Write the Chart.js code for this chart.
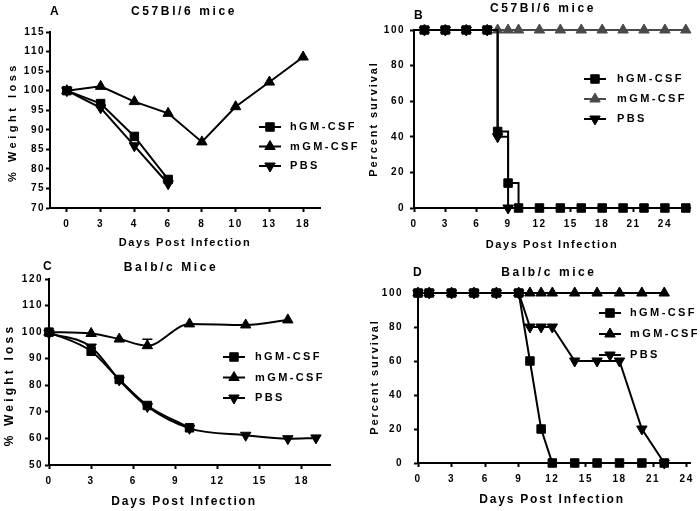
<!DOCTYPE html>
<html>
<head>
<meta charset="utf-8">
<title>GM-CSF weight and survival</title>
<script src="https://cdn.jsdelivr.net/npm/chart.js@4.4.1/dist/chart.umd.min.js"></script>
<style>
  body { margin: 0; background: #fff; }
  #wrap { position: relative; width: 700px; height: 511px; }
  #wrap canvas { position: absolute; left: 0; top: 0; }
</style>
</head>
<body>
<div id="wrap">
  <canvas id="chartA" width="700" height="511"></canvas>
  <canvas id="chartB" width="700" height="511"></canvas>
  <canvas id="chartC" width="700" height="511"></canvas>
  <canvas id="chartD" width="700" height="511"></canvas>
</div>
<script>
// A - C57Bl/6 weight (days are categories, equally spaced)
const daysA = ['0', '3', '4', '6', '8', '10', '13', '18'];
const hgmA = [100, 96.7, 88.3, 77.3, null, null, null, null];
const mgmA = [100, 101.1, 97.2, 94.2, 86.9, 95.9, 102.2, 108.6];
const pbsA = [100, 95.6, 85.9, 76.2, null, null, null, null];

// B - C57Bl/6 survival
const daysBh = [0, 1, 3, 5, 7, 8, 9, 10, 12, 14, 16, 18, 20, 22, 24, 26];
const hgmB = [100, 100, 100, 100, 100, 43, 14, 0, 0, 0, 0, 0, 0, 0, 0, 0];
const daysBm = [0, 1, 3, 5, 7, 8, 9, 10, 12, 14, 16, 18, 20, 22, 24, 26];
const mgmB = [100, 100, 100, 100, 100, 100, 100, 100, 100, 100, 100, 100, 100, 100, 100, 100];
const daysBp = [0, 1, 3, 5, 7, 8, 9];
const pbsB = [100, 100, 100, 100, 100, 40, 0];
const ticksB = [0, 3, 6, 9, 12, 15, 18, 21, 24];

// C - Balb/c weight
const daysC = [0, 3, 5, 7, 10, 14, 17, 19];
const hgmC = [100, 92.8, 82.2, 72.4, 64, null, null, null];
const mgmC = [100, 99.5, 97.4, 94.9, 103.1, 102.7, 104.6, null];
const mgmErrC = [0, 0, 0, 2.4, 0, 0, 0, 0];
const pbsC = [99.6, 94.4, 82, 72, 63.8, 61.2, 59.9, 60.2];
const ticksC = [0, 3, 6, 9, 12, 15, 18];

// D - Balb/c survival
const daysD = [0, 1, 3, 5, 7, 9, 10, 11, 12, 14, 16, 18, 20, 22];
const hgmD = [100, 100, 100, 100, 100, 100, 60, 20, 0, 0, 0, 0, 0, 0];
const mgmD = [100, 100, 100, 100, 100, 100, 100, 100, 100, 100, 100, 100, 100, 100];
const pbsD = [100, 100, 100, 100, 100, 100, 80, 80, 80, 60, 60, 60, 20, 0];
const ticksD = [0, 3, 6, 9, 12, 15, 18, 21, 24];

const FONT = "'Liberation Sans', Arial, Helvetica, sans-serif";
Chart.defaults.font.family = FONT;
Chart.defaults.font.size = 10;
Chart.defaults.font.weight = 'bold';
Chart.defaults.color = '#000';

function pts(xs, ys) {
    return xs.map((x, i) => ({ x: x, y: ys[i] }));
}

// panel letter, title, axis titles and legend drawn on top of each chart
const panelPlugin = {
    id: 'panel',
    beforeDraw(chart) {
        chart.ctx.letterSpacing = '1.5px';
    },
    afterDatasetsDraw(chart) {
        // error bars (only where a dataset has them)
        const ctx = chart.ctx;
        chart.data.datasets.forEach((ds, di) => {
            if (!ds.errorBars) return;
            const meta = chart.getDatasetMeta(di);
            const ys = chart.scales.y;
            ctx.save();
            ctx.strokeStyle = ds.borderColor;
            ctx.lineWidth = 1.5;
            meta.data.forEach((p, i) => {
                const e = ds.errorBars[i];
                if (!e) return;
                const top = ys.getPixelForValue(ds.data[i].y + e);
                ctx.beginPath();
                ctx.moveTo(p.x, p.y);
                ctx.lineTo(p.x, top);
                ctx.moveTo(p.x - 5, top);
                ctx.lineTo(p.x + 5, top);
                ctx.stroke();
            });
            ctx.restore();
        });
    },
    afterDraw(chart, args, opts) {
        const ctx = chart.ctx;
        ctx.save();
        ctx.fillStyle = '#000';
        ctx.textBaseline = 'middle';
        const put = (t, align) => {
            if (!t) return;
            ctx.save();
            ctx.font = 'bold ' + t.size + 'px ' + FONT;
            ctx.letterSpacing = t.sp + 'px';
            ctx.textAlign = align;
            ctx.translate(t.x, t.y);
            if (t.rot) ctx.rotate(t.rot * Math.PI / 180);
            ctx.fillText(t.text, 0, 0);
            ctx.restore();
        };
        put(opts.letter, 'left');
        put(opts.title, 'center');
        put(opts.xTitle, 'center');
        put(opts.yTitle, 'center');

        const lg = opts.legend;
        chart.data.datasets.forEach((ds, i) => {
            const y = lg.y + i * lg.gap;
            ctx.strokeStyle = ds.borderColor;
            ctx.fillStyle = ds.pointBackgroundColor || ds.borderColor;
            ctx.lineWidth = 2;
            ctx.beginPath();
            ctx.moveTo(lg.x, y);
            ctx.lineTo(lg.x + 22, y);
            ctx.stroke();
            ctx.lineWidth = 1;
            Chart.helpers.drawPoint(ctx, {
                pointStyle: ds.pointStyle,
                rotation: ds.pointRotation || 0,
                radius: 6,
                borderWidth: 1
            }, lg.x + 11, y);
            ctx.fillStyle = '#000';
            ctx.font = 'bold ' + lg.size + 'px ' + FONT;
            ctx.letterSpacing = lg.sp + 'px';
            ctx.textAlign = 'left';
            ctx.fillText(ds.label, lg.x + lg.textGap, y);
        });
        ctx.restore();
    }
};

function axis(extra) {
    return Object.assign({
        border: { color: '#000', width: 2 },
        grid: { drawOnChartArea: false, drawTicks: true, tickLength: 4, tickWidth: 2, tickColor: '#000' }
    }, extra);
}

function series(label, data, style, color, extra) {
    return Object.assign({
        label: label,
        data: data,
        borderColor: color,
        backgroundColor: color,
        pointBackgroundColor: color,
        pointBorderColor: color,
        pointStyle: style,
        pointRadius: 6,
        pointHoverRadius: 6,
        pointBorderWidth: 1,
        borderWidth: 2,
        tension: 0,
        clip: false
    }, extra || {});
}

function makePanel(id, area, datasets, xOpts, yOpts, panel) {
    return new Chart(document.getElementById(id), {
        type: 'line',
        data: { labels: xOpts.labels, datasets: datasets },
        options: {
            responsive: false,
            animation: false,
            events: [],
            layout: {
                padding: {
                    left: area.left - 40,
                    top: area.top,
                    right: 700 - area.right,
                    bottom: 511 - area.bottom - 40
                }
            },
            scales: {
                x: axis(Object.assign({
                    afterFit: s => { s.height = 40; },
                    ticks: { padding: 6, maxRotation: 0, autoSkip: false }
                }, xOpts.scale)),
                y: axis(Object.assign({
                    afterFit: s => { s.width = 40; }
                }, yOpts))
            },
            plugins: {
                legend: { display: false },
                tooltip: { enabled: false },
                panel: panel
            }
        },
        plugins: [panelPlugin]
    });
}

const BLACK = '#000';
const GREY = '#4a4a4a';

// A
makePanel('chartA', { left: 50, top: 32, right: 320, bottom: 208 }, [
    series('hGM-CSF', hgmA, 'rect', BLACK),
    series('mGM-CSF', mgmA, 'triangle', BLACK),
    series('PBS', pbsA, 'triangle', BLACK, { pointRotation: 180 })
], { labels: daysA, scale: { type: 'category', offset: true } },
   { min: 70, max: 115, ticks: { stepSize: 5, padding: 1 } },
   {
       letter: { text: 'A', x: 50, y: 12, size: 12, sp: 0 },
       title: { text: 'C57Bl/6 mice', x: 184, y: 12, size: 12, sp: 2.6 },
       xTitle: { text: 'Days Post Infection', x: 185, y: 243, size: 11, sp: 1.6 },
       yTitle: { text: '% Weight loss', x: 13, y: 122, size: 11, sp: 3.5, rot: -90 },
       legend: { x: 259, y: 127, gap: 19.5, size: 11, sp: 2.4, textGap: 31 }
   });

// B
const hideStart = c => (c.raw && c.raw.x === 0 ? 0 : 6);
makePanel('chartB', { left: 414, top: 30, right: 690, bottom: 208 }, [
    series('hGM-CSF', pts(daysBh, hgmB), 'rect', BLACK, { stepped: 'before', pointRadius: hideStart }),
    series('mGM-CSF', pts(daysBm, mgmB), 'triangle', GREY, { stepped: 'before', pointRadius: hideStart }),
    series('PBS', pts(daysBp, pbsB), 'triangle', BLACK, { stepped: 'before', pointRotation: 180, pointRadius: hideStart })
], { scale: { type: 'linear', min: 0, max: 26.4, afterBuildTicks: s => { s.ticks = ticksB.map(v => ({ value: v })); } } },
   { min: 0, max: 100, ticks: { stepSize: 20, padding: 5 } },
   {
       letter: { text: 'B', x: 414, y: 16, size: 12, sp: 0 },
       title: { text: 'C57Bl/6 mice', x: 543, y: 9, size: 12, sp: 2.6 },
       xTitle: { text: 'Days Post Infection', x: 552, y: 245, size: 11, sp: 1.6 },
       yTitle: { text: 'Percent survival', x: 374, y: 119, size: 11, sp: 1.9, rot: -90 },
       legend: { x: 584, y: 79, gap: 20, size: 11, sp: 2.4, textGap: 33 }
   });

// C
makePanel('chartC', { left: 49, top: 279, right: 330, bottom: 465 }, [
    series('hGM-CSF', pts(daysC, hgmC), 'rect', BLACK, { cubicInterpolationMode: 'monotone' }),
    series('mGM-CSF', pts(daysC, mgmC), 'triangle', BLACK, { cubicInterpolationMode: 'monotone', errorBars: mgmErrC }),
    series('PBS', pts(daysC, pbsC), 'triangle', BLACK, { cubicInterpolationMode: 'monotone', pointRotation: 180 })
], { scale: { type: 'linear', min: 0, max: 20, afterBuildTicks: s => { s.ticks = ticksC.map(v => ({ value: v })); } } },
   { min: 50, max: 120, ticks: { stepSize: 10, padding: 2 } },
   {
       letter: { text: 'C', x: 43, y: 267, size: 12, sp: 0 },
       title: { text: 'Balb/c Mice', x: 171, y: 268, size: 12, sp: 2.6 },
       xTitle: { text: 'Days Post Infection', x: 184, y: 502, size: 12, sp: 1.8 },
       yTitle: { text: '% Weight loss', x: 10, y: 385, size: 12, sp: 3.2, rot: -90 },
       legend: { x: 223, y: 357, gap: 20.5, size: 11, sp: 2.4, textGap: 32 }
   });

// D
makePanel('chartD', { left: 418, top: 293, right: 690, bottom: 463 }, [
    series('hGM-CSF', pts(daysD, hgmD), 'rect', BLACK),
    series('mGM-CSF', pts(daysD, mgmD), 'triangle', BLACK),
    series('PBS', pts(daysD, pbsD), 'triangle', BLACK, { pointRotation: 180 })
], { scale: { type: 'linear', min: 0, max: 24.3, afterBuildTicks: s => { s.ticks = ticksD.map(v => ({ value: v })); } } },
   { min: 0, max: 100, ticks: { stepSize: 20, padding: 11 } },
   {
       letter: { text: 'D', x: 413, y: 273, size: 12, sp: 0 },
       title: { text: 'Balb/c mice', x: 549, y: 273, size: 12, sp: 2.6 },
       xTitle: { text: 'Days Post Infection', x: 552, y: 500, size: 12, sp: 1.8 },
       yTitle: { text: 'Percent survival', x: 375, y: 377, size: 11, sp: 1.9, rot: -90 },
       legend: { x: 599, y: 313, gap: 21, size: 11, sp: 2.4, textGap: 31 }
   });
</script>
</body>
</html>
